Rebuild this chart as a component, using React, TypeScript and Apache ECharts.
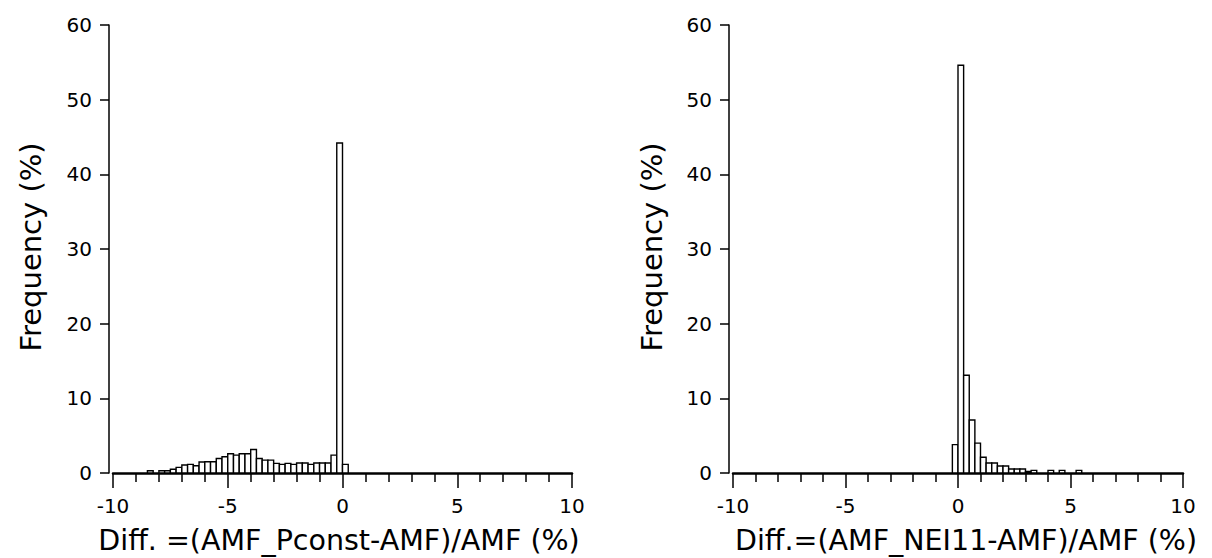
import React, { useEffect, useRef } from "react";
import * as echarts from "echarts";

const BIN_WIDTH = 0.25;

// Left panel: (AMF_Pconst-AMF)/AMF, bin start (%) and frequency (%)
const leftBinStarts = [
  -8.5, -8.0, -7.75, -7.5, -7.25, -7.0, -6.75, -6.5, -6.25, -6.0, -5.75, -5.5, -5.25,
  -5.0, -4.75, -4.5, -4.25, -4.0, -3.75, -3.5, -3.25, -3.0, -2.75, -2.5, -2.25, -2.0,
  -1.75, -1.5, -1.25, -1.0, -0.75, -0.5, -0.25, 0.0,
];
const leftValues = [
  0.3, 0.3, 0.3, 0.5, 0.75, 1.07, 1.15, 0.98, 1.47, 1.5, 1.5, 1.95, 2.18,
  2.58, 2.4, 2.58, 2.58, 3.15, 1.95, 1.73, 1.73, 1.29, 1.15, 1.29, 1.15, 1.33,
  1.33, 1.15, 1.33, 1.33, 1.33, 2.4, 44.2, 1.15,
];

// Right panel: (AMF_NEI11-AMF)/AMF
const rightBinStarts = [
  -0.25, 0.0, 0.25, 0.5, 0.75, 1.0, 1.25, 1.5, 1.75, 2.0, 2.25, 2.5, 2.75, 3.0, 3.25,
  4.0, 4.5, 5.25,
];
const rightValues = [
  3.8, 54.6, 13.1, 7.1, 4.0, 2.1, 1.33, 1.33, 0.93, 0.93, 0.53, 0.53, 0.53, 0.2, 0.35,
  0.35, 0.35, 0.35,
];

const yRange = { min: 0, max: 60, interval: 10 };
const xRange = { min: -10, max: 10, interval: 5 };

const leftTitle = "Diff. =(AMF_Pconst-AMF)/AMF (%)";
const rightTitle = "Diff.=(AMF_NEI11-AMF)/AMF (%)";
const yTitle = "Frequency (%)";

const FONT = "DejaVu Sans";

function histData(starts: number[], values: number[]) {
  return starts.map((s, i) => [s, s + BIN_WIDTH, values[i]]);
}

const renderBin = (params: any, api: any) => {
  const x0 = api.value(0);
  const x1 = api.value(1);
  const v = api.value(2);
  const p0 = api.coord([x0, v]);
  const p1 = api.coord([x1, 0]);
  return {
    type: "rect",
    shape: { x: p0[0], y: p0[1], width: p1[0] - p0[0], height: p1[1] - p0[1] },
    style: { fill: "#ffffff", stroke: "#000000", lineWidth: 1.4 },
  };
};

function xAxisFor(gridIndex: number) {
  return {
    type: "value",
    gridIndex,
    min: xRange.min,
    max: xRange.max,
    interval: xRange.interval,
    axisLine: { show: true, onZero: false, lineStyle: { color: "#000", width: 2.5 } },
    axisTick: { show: true, length: 15, lineStyle: { color: "#000", width: 1.5 } },
    minorTick: { show: true, splitNumber: 5, length: 9, lineStyle: { color: "#000", width: 1.5 } },
    axisLabel: { show: true, fontFamily: FONT, fontSize: 20, color: "#000", margin: 23 },
    splitLine: { show: false },
    minorSplitLine: { show: false },
  };
}

function yAxisFor(gridIndex: number) {
  return {
    type: "value",
    gridIndex,
    position: "left",
    min: yRange.min,
    max: yRange.max,
    interval: yRange.interval,
    offset: 4,
    axisLine: { show: true, onZero: false, lineStyle: { color: "#000", width: 1.5 } },
    axisTick: { show: true, length: 9, lineStyle: { color: "#000", width: 1.5 } },
    axisLabel: { show: true, fontFamily: FONT, fontSize: 20, color: "#000", margin: 17 },
    splitLine: { show: false },
  };
}

function titleText(text: string, x: number, y: number, rotate: boolean, size: number) {
  return {
    type: "text",
    x,
    y,
    rotation: rotate ? Math.PI / 2 : 0,
    style: {
      text,
      fontFamily: FONT,
      fontSize: size,
      fill: "#000",
      align: "center",
      verticalAlign: "middle",
    },
  };
}

export default function App() {
  const ref = useRef<HTMLDivElement>(null);
  useEffect(() => {
    if (!ref.current) return;
    const chart = echarts.init(ref.current, undefined, { renderer: "svg" });
    chart.setOption({
      animation: false,
      backgroundColor: "#ffffff",
      textStyle: { fontFamily: FONT },
      grid: [
        { left: 113, top: 25, width: 459, height: 448 },
        { left: 733, top: 25, width: 450, height: 448 },
      ],
      xAxis: [xAxisFor(0), xAxisFor(1)],
      yAxis: [yAxisFor(0), yAxisFor(1)],
      graphic: [
        titleText(leftTitle, 339, 540, false, 28.5),
        titleText(rightTitle, 966, 540, false, 28.5),
        titleText(yTitle, 31, 247, true, 29),
        titleText(yTitle, 652, 247, true, 29),
      ],
      series: [
        {
          type: "custom",
          xAxisIndex: 0,
          yAxisIndex: 0,
          renderItem: renderBin,
          encode: { x: [0, 1], y: 2 },
          data: histData(leftBinStarts, leftValues),
        },
        {
          type: "custom",
          xAxisIndex: 1,
          yAxisIndex: 1,
          renderItem: renderBin,
          encode: { x: [0, 1], y: 2 },
          data: histData(rightBinStarts, rightValues),
        },
      ],
    });
    return () => chart.dispose();
  }, []);
  return (
    <div
      ref={ref}
      style={{ position: "fixed", left: 0, top: 0, width: 1212, height: 558, background: "#fff" }}
    />
  );
}
